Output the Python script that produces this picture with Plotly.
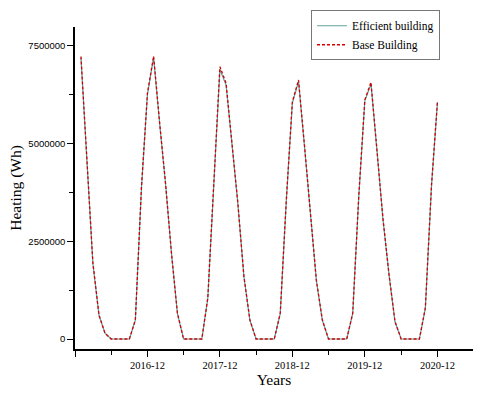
import plotly.graph_objects as go

# monthly heating demand, Jan 2016 .. Dec 2020 (Wh)
months = [f"{y}-{m:02d}-01" for y in range(2016, 2021) for m in range(1, 13)]

base_building = [
    7230000, 4620000, 1950000, 610000, 150000, 0, 0, 0, 0, 490000, 3900000, 6290000,
    7240000, 5500000, 4050000, 2200000, 660000, 0, 0, 0, 0, 1050000, 4000000, 6970000,
    6550000, 4900000, 3500000, 1600000, 490000, 0, 0, 0, 0, 660000, 3600000, 6070000,
    6630000, 4900000, 3200000, 1500000, 490000, 0, 0, 0, 0, 660000, 3700000, 6120000,
    6570000, 4790000, 3100000, 1650000, 450000, 0, 0, 0, 0, 800000, 3940000, 6080000,
]
efficient_building = [
    7200000, 4600000, 1940000, 600000, 150000, 0, 0, 0, 0, 480000, 3880000, 6260000,
    7200000, 5480000, 4030000, 2190000, 650000, 0, 0, 0, 0, 1040000, 3980000, 6900000,
    6500000, 4880000, 3490000, 1590000, 480000, 0, 0, 0, 0, 650000, 3580000, 6040000,
    6590000, 4880000, 3190000, 1490000, 480000, 0, 0, 0, 0, 650000, 3680000, 6090000,
    6530000, 4770000, 3090000, 1640000, 440000, 0, 0, 0, 0, 790000, 3920000, 6060000,
]

x_ticks = ["2015-12-02", "2016-12-01", "2017-12-01", "2018-12-01", "2019-12-01", "2020-12-01"]
x_labels = ["", "2016-12", "2017-12", "2018-12", "2019-12", "2020-12"]
x_minor = ["2016-06-01", "2017-06-01", "2018-06-01", "2019-06-01", "2020-06-01"]
y_ticks = [0, 2500000, 5000000, 7500000]
y_labels = ["0", "2500000", "5000000", "7500000"]

GREEN = "#5fa3a0"
RED = "#d40000"
SERIF = "Liberation Serif, Times New Roman, serif"
SANS = "Liberation Sans, Arial, sans-serif"

fig = go.Figure()
fig.add_trace(go.Scatter(
    x=months, y=efficient_building,
    mode="lines", name="Efficient building",
    line=dict(color=GREEN, width=1.2),
))
fig.add_trace(go.Scatter(
    x=months, y=base_building,
    mode="lines", name="Base Building",
    line=dict(color=RED, width=1.3, dash="3px,2px"),
))

fig.update_layout(
    width=479, height=393,
    paper_bgcolor="white", plot_bgcolor="white",
    margin=dict(l=75, r=6, t=27, b=44),
    font=dict(family=SERIF, color="black"),
    showlegend=True,
    legend=dict(
        x=0.593, y=1.052, xanchor="left", yanchor="top",
        bgcolor="white", bordercolor="#777777", borderwidth=1,
        font=dict(family=SERIF, size=11.5, color="black"),
        tracegroupgap=0, itemwidth=30,
    ),
    xaxis=dict(
        type="date",
        range=["2015-12-02", "2021-05-29"],
        tickmode="array", tickvals=x_ticks, ticktext=x_labels,
        ticks="outside", ticklen=6, tickwidth=1, tickcolor="black",
        tickfont=dict(family=SERIF, size=10.5),
        minor=dict(tickmode="array", tickvals=x_minor, ticks="outside",
                   ticklen=4, tickwidth=1, tickcolor="black", showgrid=False),
        showline=True, linecolor="black", linewidth=1.5,
        showgrid=False, zeroline=False,
        title=dict(text="Years", font=dict(family=SERIF, size=15.5), standoff=3),
    ),
    yaxis=dict(
        range=[-256000, 7986000],
        tickmode="array", tickvals=y_ticks, ticktext=y_labels,
        ticks="outside", ticklen=6, tickwidth=1, tickcolor="black",
        tickfont=dict(family=SANS, size=9.5),
        minor=dict(tickmode="array", tickvals=[1250000, 3750000, 6250000],
                   ticks="outside", ticklen=4, tickwidth=1, tickcolor="black",
                   showgrid=False),
        showline=True, linecolor="black", linewidth=1.5,
        showgrid=False, zeroline=False,
        title=dict(text="Heating (Wh)", font=dict(family=SERIF, size=15.5), standoff=3),
    ),
)

# drop the page's default body margin so the figure sits at the window's corner
fig.write_html("out.html", config={"displayModeBar": False},
               post_script="document.body.style.margin='0';")
